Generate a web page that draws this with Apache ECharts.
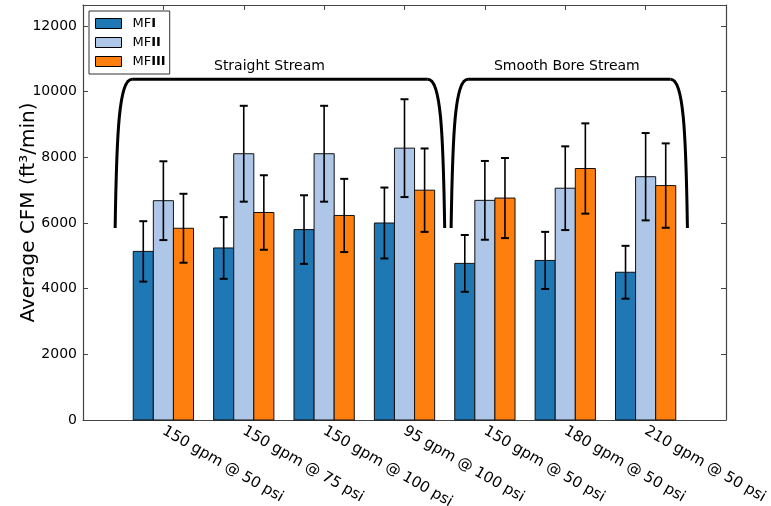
<!DOCTYPE html>
<html>
<head>
<meta charset="utf-8">
<script src="https://cdn.jsdelivr.net/npm/echarts@6/dist/echarts.min.js"></script>
<style>
  html, body { margin: 0; padding: 0; background: #fff; }
  #chart { width: 771px; height: 506px; }
</style>
</head>
<body>
<div id="chart"></div>
<script>
// Flow test results: average CFM per nozzle setting for three mask filters
const categories = ['150 gpm @ 50 psi', '150 gpm @ 75 psi', '150 gpm @ 100 psi', '95 gpm @ 100 psi',
                    '150 gpm @ 50 psi', '180 gpm @ 50 psi', '210 gpm @ 50 psi'];
const seriesNames = ['MFI', 'MFII', 'MFIII'];
const mf1 = [5135, 5240, 5800, 6000, 4770, 4860, 4500];
const mf1Err = [920, 940, 1045, 1080, 865, 870, 805];
const mf2 = [6680, 8110, 8110, 8280, 6690, 7060, 7410];
const mf2Err = [1200, 1460, 1460, 1490, 1200, 1275, 1330];
const mf3 = [5840, 6320, 6230, 7000, 6760, 7660, 7140];
const mf3Err = [1050, 1135, 1115, 1270, 1220, 1375, 1285];
const yTicks = [0, 2000, 4000, 6000, 8000, 10000, 12000];

// stream-type groups (in category units along x)
const groupNames = ['Straight Stream', 'Smooth Bore Stream'];
const groupSpans = [[-0.6, 3.5], [3.58, 6.52]];
const groupLabelX = [1.32, 5.02];
const bracketBottom = 5850, bracketTop = 10380, groupLabelY = 10780;

const colors = ['#1f77b4', '#aec7e8', '#ff7f0e'];
const barWidth = 0.25;
const offsets = [-0.25, 0, 0.25];
const FONT = 'DejaVu Sans';

const chart = echarts.init(document.getElementById('chart'), null, { renderer: 'canvas' });

function barRenderer(k) {
  return function (params, api) {
    const x = api.value(0) + offsets[k];
    const v = api.value(1);
    const e = api.value(2);
    const tl = api.coord([x - barWidth / 2, v]);
    const br = api.coord([x + barWidth / 2, 0]);
    const c = api.coord([x, v]);
    const hi = api.coord([x, v + e]);
    const lo = api.coord([x, v - e]);
    const cap = 4;
    return {
      type: 'group',
      children: [
        { type: 'rect', shape: { x: tl[0], y: tl[1], width: br[0] - tl[0], height: br[1] - tl[1] },
          style: { fill: colors[k], stroke: '#111', lineWidth: 1 } },
        { type: 'line', shape: { x1: c[0], y1: hi[1], x2: c[0], y2: lo[1] },
          style: { stroke: '#000', lineWidth: 1.6 } },
        { type: 'line', shape: { x1: c[0] - cap, y1: hi[1], x2: c[0] + cap, y2: hi[1] },
          style: { stroke: '#000', lineWidth: 2 } },
        { type: 'line', shape: { x1: c[0] - cap, y1: lo[1], x2: c[0] + cap, y2: lo[1] },
          style: { stroke: '#000', lineWidth: 2 } }
      ]
    };
  };
}

function bracketRenderer(params, api) {
  const i = params.dataIndex;
  const span = groupSpans[i];
  const a = api.coord([span[0], bracketBottom]);
  const b = api.coord([span[1], bracketTop]);
  const t = api.coord([groupLabelX[i], groupLabelY]);
  const x0 = a[0], x1 = b[0], yb = a[1], yt = b[1];
  const cy = yb - (yb - yt) * 0.66;
  const st = { stroke: '#000', lineWidth: 3, fill: null };
  return {
    type: 'group',
    children: [
      { type: 'bezierCurve', shape: { x1: x0, y1: yb, cpx1: x0 + 1.5, cpy1: cy, cpx2: x0 + 4, cpy2: yt, x2: x0 + 17, y2: yt }, style: st },
      { type: 'line', shape: { x1: x0 + 17, y1: yt, x2: x1 - 17, y2: yt }, style: st },
      { type: 'bezierCurve', shape: { x1: x1, y1: yb, cpx1: x1 - 1.5, cpy1: cy, cpx2: x1 - 4, cpy2: yt, x2: x1 - 17, y2: yt }, style: st },
      { type: 'text', x: t[0], y: t[1],
        style: { text: groupNames[i], fill: '#000', font: '14px ' + FONT, align: 'center', verticalAlign: 'middle' } }
    ]
  };
}

const allValues = [mf1, mf2, mf3];
const allErrs = [mf1Err, mf2Err, mf3Err];

const series = seriesNames.map((name, k) => ({
  name: name,
  type: 'custom',
  xAxisIndex: 0,
  yAxisIndex: 0,
  itemStyle: { color: colors[k], borderColor: '#000', borderWidth: 1 },
  encode: { x: 0, y: 1 },
  data: allValues[k].map((v, i) => [i, v, allErrs[k][i]]),
  renderItem: barRenderer(k),
  z: 2
}));

series.push({
  name: 'groups',
  type: 'custom',
  xAxisIndex: 0,
  yAxisIndex: 0,
  silent: true,
  encode: { x: 0, y: 1 },
  data: groupSpans.map((s, i) => [groupLabelX[i], bracketTop]),
  renderItem: bracketRenderer,
  z: 3
});

const axisLine = { show: true, onZero: false, lineStyle: { color: '#444', width: 1.2 } };
const axisTick = { show: true, inside: true, length: 5, lineStyle: { color: '#444', width: 1 } };

chart.setOption({
  animation: false,
  backgroundColor: '#fff',
  textStyle: { fontFamily: FONT },
  grid: { left: 83, right: 45, top: 5, bottom: 86, containLabel: false, outerBoundsMode: 'none' },
  legend: {
    data: seriesNames.map((n, k) => ({ name: n, itemStyle: { color: colors[k], borderColor: '#000', borderWidth: 1 } })),
    orient: 'vertical',
    left: 89,
    top: 11,
    padding: [6, 4, 6, 6],
    itemWidth: 26,
    itemHeight: 10,
    itemGap: 6,
    icon: 'rect',
    borderColor: '#333',
    borderWidth: 1,
    backgroundColor: '#fff',
    selectedMode: false,
    formatter: n => '{a|MF}{b|' + n.slice(2) + '}',
    textStyle: {
      padding: [0, 0, 0, 6],
      rich: {
        a: { fontFamily: FONT, fontSize: 13, lineHeight: 12, color: '#000' },
        b: { fontFamily: FONT, fontSize: 13, lineHeight: 12, fontWeight: 'bold', color: '#000' }
      }
    }
  },
  xAxis: [
    {
      type: 'value', min: -1, max: 7, interval: 1, position: 'bottom',
      axisLine: axisLine, axisTick: axisTick, splitLine: { show: false },
      axisLabel: {
        rotate: -30, margin: 10, fontSize: 15, color: '#000', fontFamily: FONT,
        formatter: v => (v >= 0 && v < categories.length) ? categories[v] : ''
      }
    },
    {
      type: 'value', min: -1, max: 7, interval: 1, position: 'top',
      axisLine: axisLine, axisTick: axisTick, splitLine: { show: false },
      axisLabel: { show: false }
    }
  ],
  yAxis: [
    {
      type: 'value', min: 0, max: 12640, interval: 2000, position: 'left',
      name: 'Average CFM (ft³/min)', nameLocation: 'middle', nameGap: 44, nameMoveOverlap: false,
      nameTextStyle: { fontSize: 20, color: '#000', fontFamily: FONT },
      axisLine: axisLine, axisTick: axisTick, splitLine: { show: false },
      axisLabel: {
        margin: 6, fontSize: 14, color: '#000', fontFamily: FONT, showMaxLabel: false,
        formatter: v => yTicks.indexOf(v) >= 0 ? String(v) : ''
      }
    },
    {
      type: 'value', min: 0, max: 12640, interval: 2000, position: 'right',
      axisLine: axisLine, axisTick: axisTick, splitLine: { show: false },
      axisLabel: { show: false }
    }
  ],
  series: series
});
</script>
</body>
</html>
